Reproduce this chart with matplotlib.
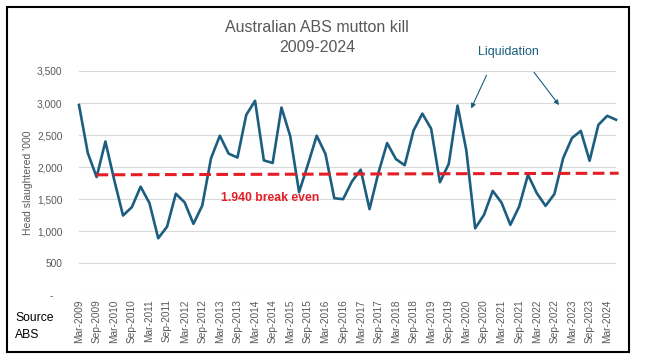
import numpy as np
import matplotlib
matplotlib.use('Agg')
import matplotlib.pyplot as plt
from matplotlib.patches import Rectangle, FancyArrowPatch
from matplotlib.ticker import FuncFormatter

### Data (quarterly, Mar-2009 .. Jun-2024, head slaughtered '000)
quarters = [f'{m}-{y}' for y in range(2009, 2025) for m in ['Mar', 'Jun', 'Sep', 'Dec']][:62]
mutton_kill = [2970, 2220, 1845, 2400, 1800, 1245, 1375, 1695, 1440, 890,
               1070, 1585, 1450, 1115, 1400, 2140, 2490, 2210, 2150, 2815,
               3035, 2105, 2065, 2930, 2480, 1610, 2040, 2490, 2205, 1515,
               1500, 1775, 1960, 1345, 1905, 2375, 2125, 2030, 2570, 2835,
               2600, 1765, 2050, 2960, 2260, 1045, 1255, 1630, 1445, 1100,
               1385, 1880, 1595, 1395, 1580, 2140, 2455, 2565, 2100, 2660,
               2800, 2740]
break_even_x = [2, 61.3]
break_even_y = [1880, 1905]
tick_labels = quarters[::2]

### Plot settings
line_c = '#1B5E80'
red_c = '#E41E26'
grey_c = '#595959'
plt.rcParams['font.family'] = ['Liberation Sans', 'DejaVu Sans']

fig = plt.figure(figsize=(6.56, 3.6), dpi=100)
W, H = 656, 360
ax = fig.add_axes([79 / W, 1 - 295.3 / H, (616 - 79) / W, (295.3 - 71) / H])

x = np.arange(len(mutton_kill))
ax.plot(x, mutton_kill, color=line_c, lw=1.9, zorder=3, clip_on=False)
ax.plot(break_even_x, break_even_y, color=red_c, lw=2.2, ls=(0, (3.8, 1.8)),
        zorder=4, clip_on=False)

ax.set_xlim(0, len(mutton_kill) - 1)
ax.set_ylim(0, 3500)
ax.set_yticks(np.arange(0, 3501, 500))
ax.yaxis.set_major_formatter(FuncFormatter(lambda v, p: '-   ' if v == 0 else f'{int(v):,}'))
ax.set_xticks(x[::2])
ax.set_xticklabels(tick_labels, rotation=90)
ax.tick_params(axis='both', length=0, labelsize=7.3, labelcolor=grey_c)
ax.tick_params(axis='x', pad=3)
ax.tick_params(axis='y', pad=12)
ax.grid(axis='y', color='#D9D9D9', lw=0.8)
ax.set_axisbelow(True)
for s in ax.spines.values():
    s.set_visible(False)

ax.set_ylabel("Head slaughtered '000", fontsize=7.5, color=grey_c, labelpad=3)

### Texts and annotations
fig.text(317 / W, 1 - 27 / H, 'Australian ABS mutton kill', ha='center', va='center',
         fontsize=11.5, color=grey_c)
fig.text(317 / W, 1 - 47 / H, '2009-2024', ha='center', va='center',
         fontsize=11.5, color=grey_c)
fig.text(270 / W, 1 - 198 / H, '1.940 break even', ha='center', va='center',
         fontsize=8.8, color=red_c, fontweight='bold')
fig.text(508 / W, 1 - 52 / H, 'Liquidation', ha='center', va='center',
         fontsize=9, color=line_c)
for (x0, y0), (x1, y1) in [((487.7, 72.7), (470, 111)), ((532.3, 70), (560.7, 107.3))]:
    fig.add_artist(FancyArrowPatch(
        (x0 / W, 1 - y0 / H), (x1 / W, 1 - y1 / H), transform=fig.transFigure,
        arrowstyle='-|>', mutation_scale=7, color=line_c, lw=0.8))
fig.text(15 / W, 1 - 318 / H, 'Source', ha='left', va='center', fontsize=8.7)
fig.text(15 / W, 1 - 335 / H, 'ABS', ha='left', va='center', fontsize=8.7)

fig.add_artist(Rectangle((6.5 / W, 1 - 352 / H), (629 - 6.5) / W, (352 - 7) / H,
                         transform=fig.transFigure, fill=False, ec='black', lw=1.5))

plt.savefig('out.png', dpi=100)
